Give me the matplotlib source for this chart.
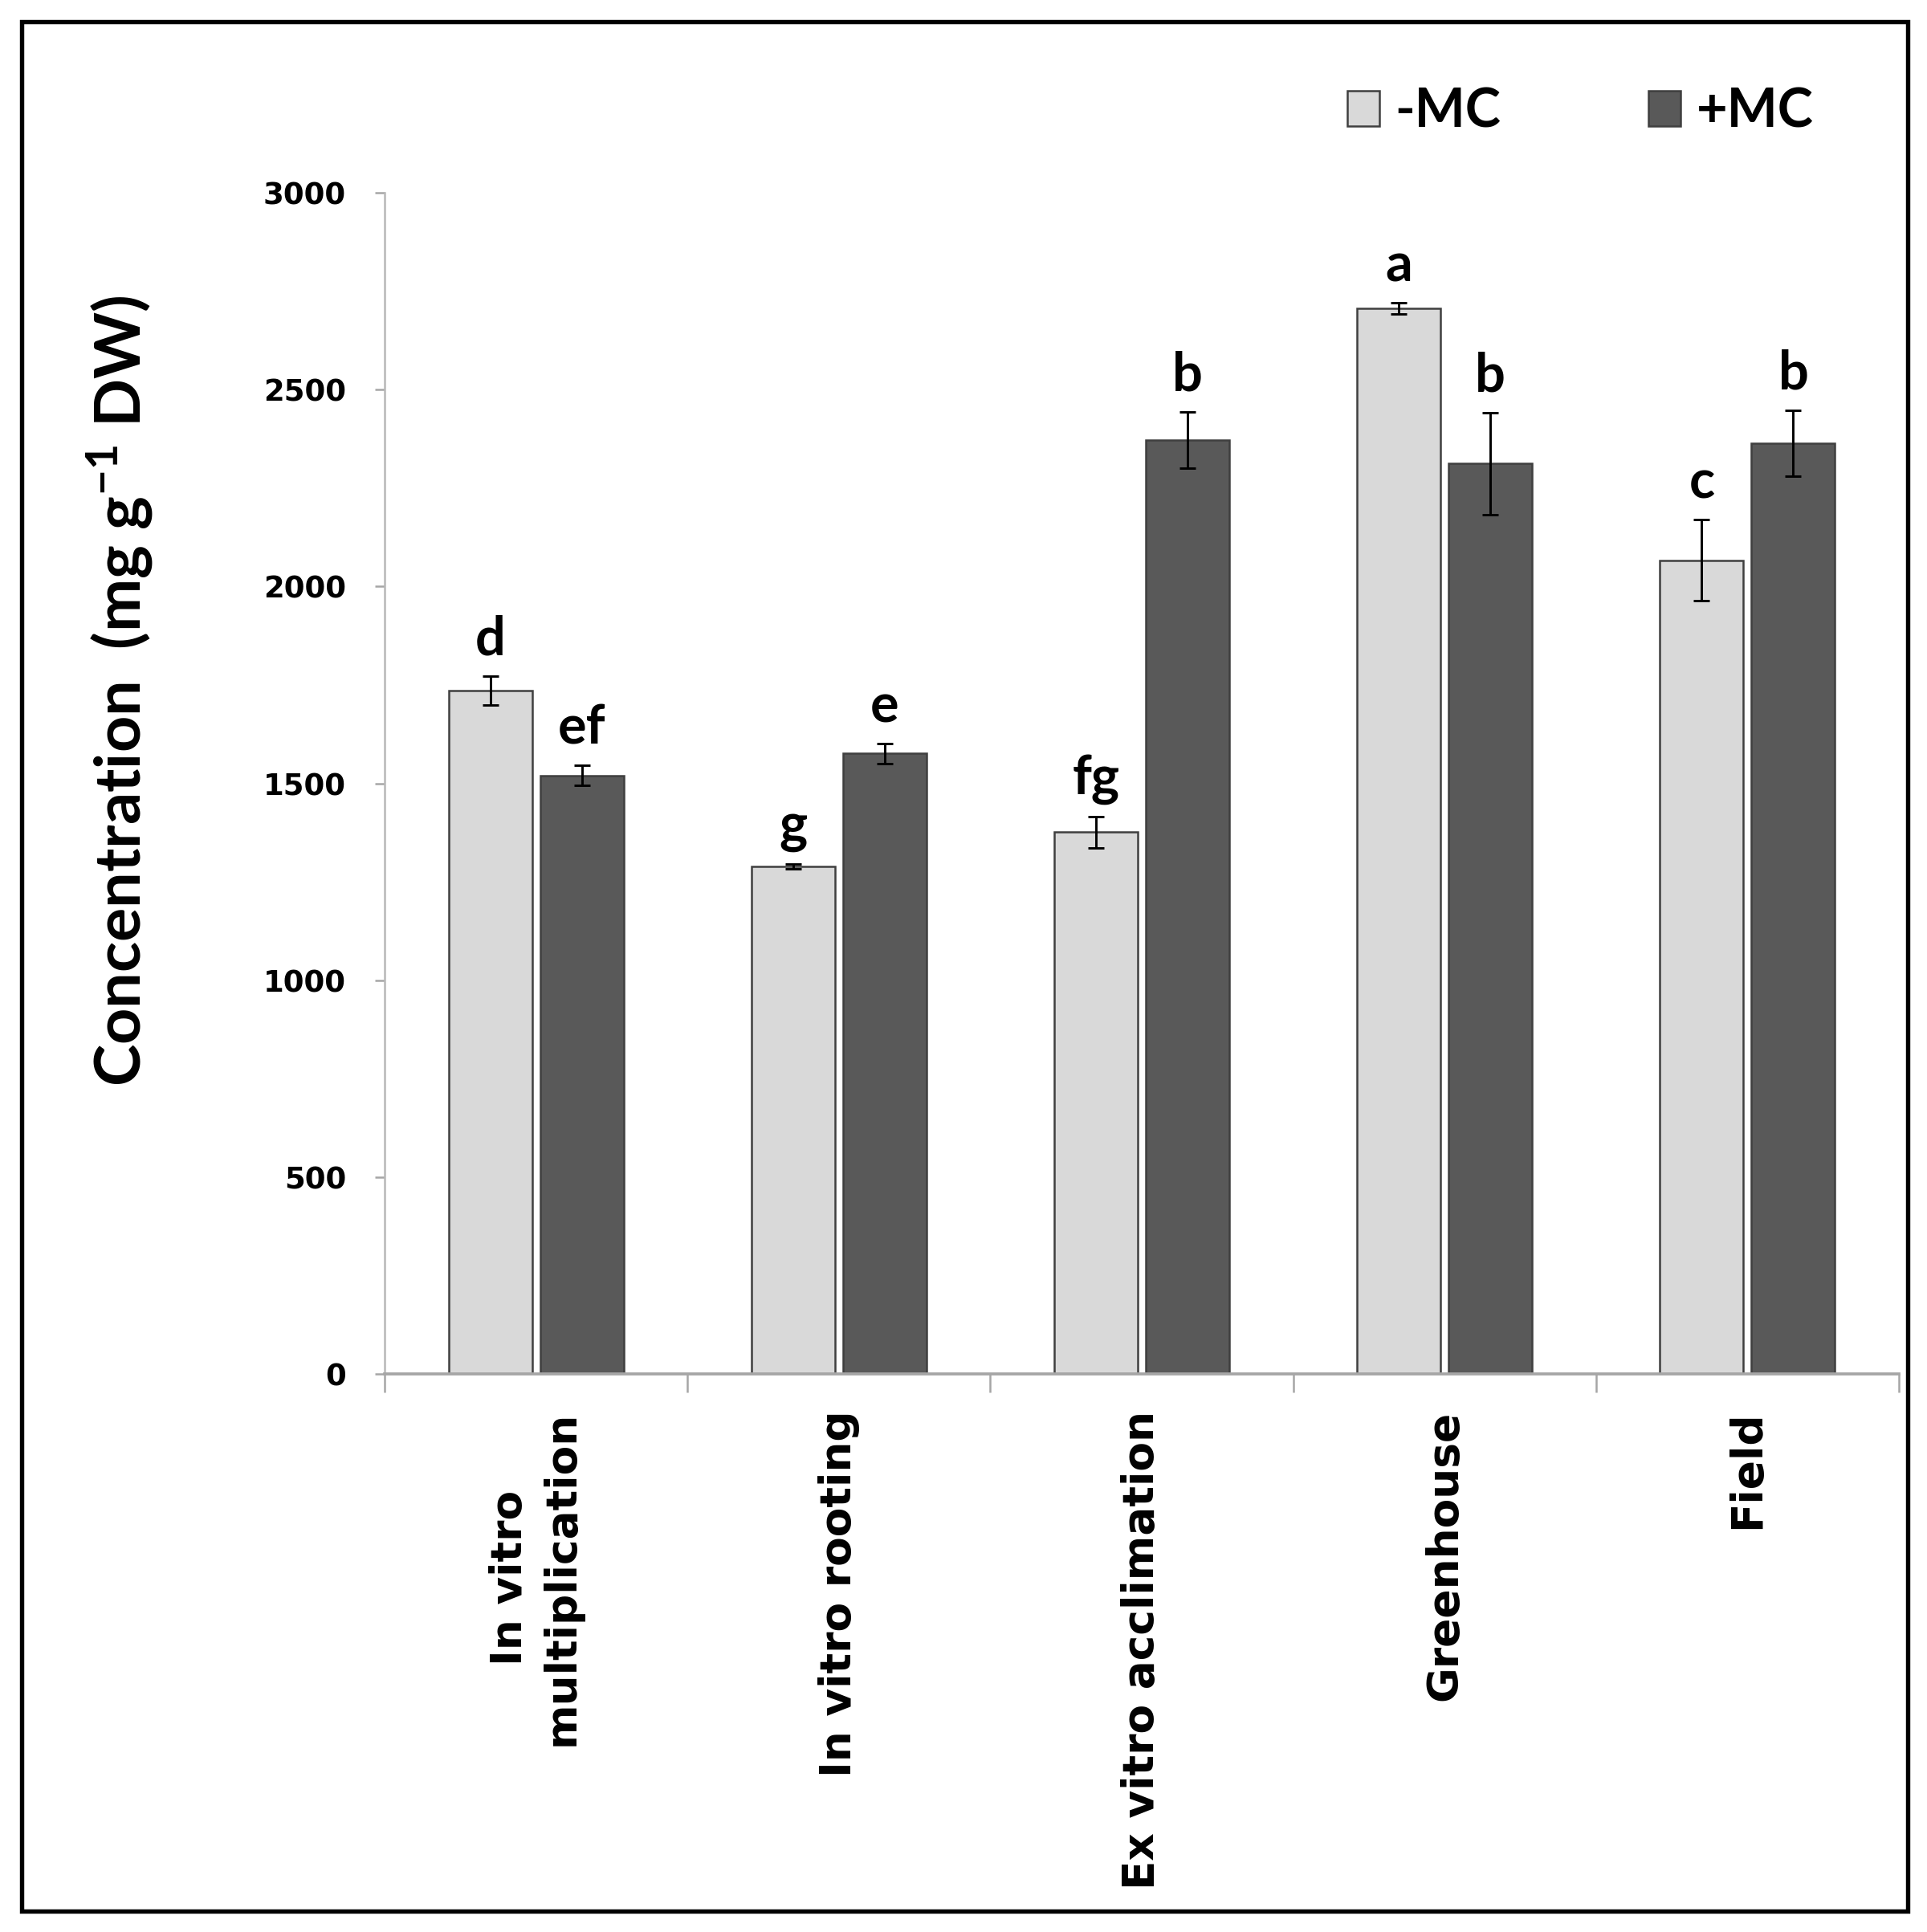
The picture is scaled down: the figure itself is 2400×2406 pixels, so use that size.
import matplotlib
matplotlib.use("Agg")
import matplotlib.pyplot as plt
import numpy as np
from matplotlib.patches import Rectangle

categories = ["In vitro\nmultiplication", "In vitro rooting", "Ex vitro acclimation", "Greenhouse", "Field"]
series_names = ["-MC", "+MC"]
minus_mc = [1735, 1289, 1376, 2706, 2067]
minus_mc_err = [37, 6, 40, 14, 103]
plus_mc = [1520, 1576, 2372, 2312, 2364]
plus_mc_err = [25, 25, 71, 129, 83]
letters_minus = ["d", "g", "fg", "a", "c"]
letters_plus = ["ef", "e", "b", "b", "b"]
yticks = [0, 500, 1000, 1500, 2000, 2500, 3000]

plt.rcParams['mathtext.default'] = 'regular'

fig = plt.figure(figsize=(8, 8.02), dpi=300)
ax = fig.add_axes([0.1996, 0.2889, 0.7858, 0.6113])

x = np.arange(len(categories))
w = 0.276
off = 0.151
light = '#d9d9d9'
dark = '#595959'
edge = '#3f3f3f'
ekw = dict(ecolor='black', elinewidth=0.7, capsize=2.4, capthick=0.7)

ax.bar(x - off, minus_mc, w, color=light, edgecolor=edge, linewidth=0.6,
       yerr=minus_mc_err, error_kw=ekw, label=series_names[0], zorder=2)
ax.bar(x + off, plus_mc, w, color=dark, edgecolor=edge, linewidth=0.6,
       yerr=plus_mc_err, error_kw=ekw, label=series_names[1], zorder=2)

for xs, vals, errs, labs in ((x - off, minus_mc, minus_mc_err, letters_minus),
                             (x + off, plus_mc, plus_mc_err, letters_plus)):
    for xi, v, e, t in zip(xs, vals, errs, labs):
        ax.annotate(t, (xi, v + e), xytext=(0, 3.5), textcoords='offset points',
                    ha='center', va='bottom', fontsize=16, fontweight='bold', family='Lato')

ax.set_xlim(-0.5, len(categories) - 0.5)
ax.set_ylim(0, 3000)
ax.set_yticks(yticks)
ax.set_yticklabels([str(t) for t in yticks], fontsize=8.9, fontweight='bold', family='DejaVu Sans')
ax.tick_params(axis='y', length=3, width=0.6, color='#a6a6a6', pad=8.5)

ax.set_xticks(x)
ax.set_xticklabels(categories, rotation=90, fontsize=12.8, fontweight='bold',
                   family='DejaVu Sans', linespacing=1.3)
ax.tick_params(axis='x', which='major', length=0, pad=11)
ax.set_xticks(np.arange(len(categories) + 1) - 0.5, minor=True)
ax.tick_params(axis='x', which='minor', length=5.5, width=0.6, color='#a6a6a6')

for s in ['top', 'right']:
    ax.spines[s].set_visible(False)
ax.spines['left'].set_color('#b8b8b8')
ax.spines['left'].set_linewidth(0.6)
ax.spines['bottom'].set_color('#a6a6a6')
ax.spines['bottom'].set_linewidth(0.9)

fig.text(0.0617, 0.6426, "Concentration  (mg g$^{-1}$ DW)", rotation=90,
         ha='center', va='center', fontsize=19, fontweight='bold', family='Lato')

leg = fig.legend(loc='center left', bbox_to_anchor=(0.699, 0.942), ncol=2, frameon=False,
                 prop={'family': 'Lato', 'weight': 'bold', 'size': 16},
                 handlelength=0.6, handleheight=0.65, handletextpad=0.3,
                 columnspacing=2.75, borderpad=0, borderaxespad=0)

W, H = fig.get_size_inches() * fig.dpi
fig.patches.append(Rectangle((27 / W, 1 - 2380 / H), (2376 - 27) / W, (2380 - 27) / H,
                             transform=fig.transFigure, fill=False, edgecolor='black',
                             linewidth=1.3, zorder=10))

fig.savefig("out.png", dpi=300)
